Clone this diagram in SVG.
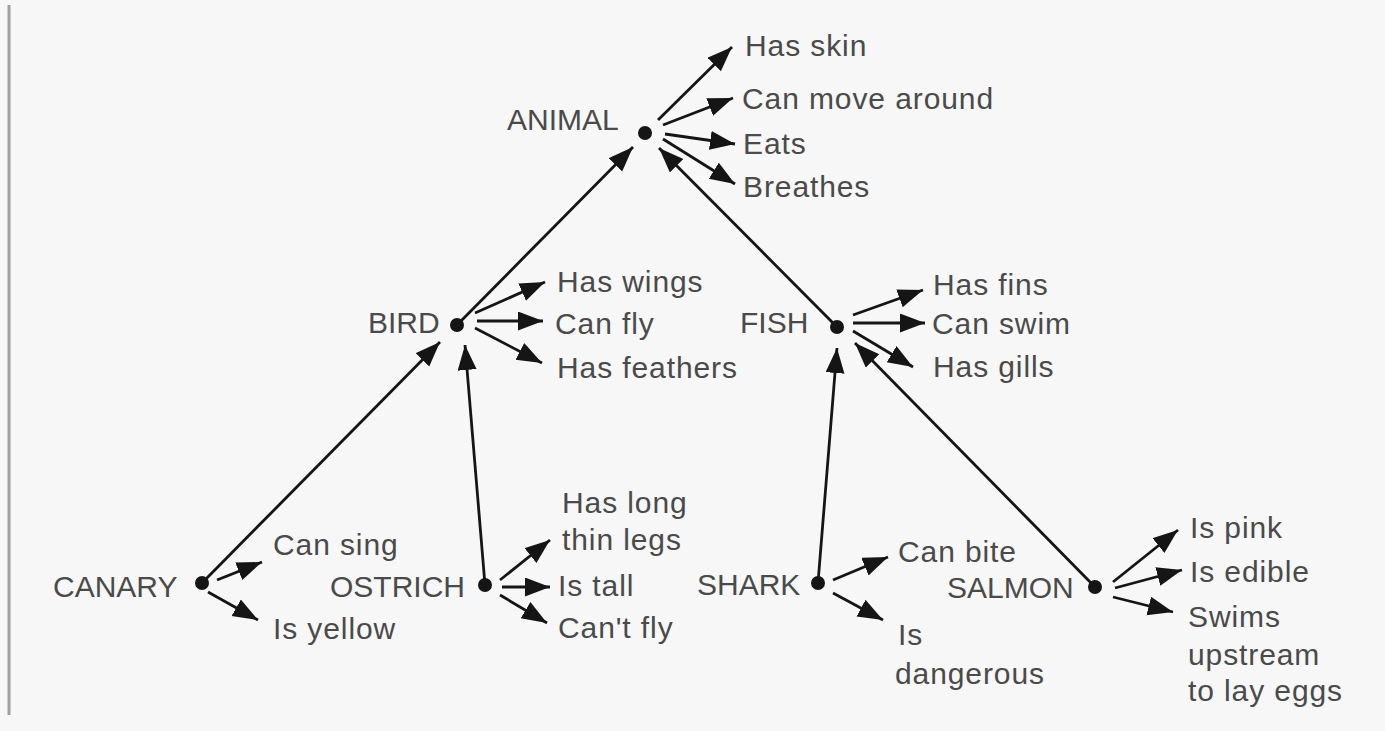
<svg xmlns="http://www.w3.org/2000/svg" width="1385" height="731" viewBox="0 0 1385 731">
<style>
.bg{fill:#f7f7f7}
.lbl{font-family:"Liberation Sans",Arial,sans-serif;font-size:30px;fill:#4a4a4a}
.prop{letter-spacing:0.9px}
.edge{stroke:#151515;stroke-width:2.8;fill:none;marker-end:url(#ah)}
.dot{fill:#151515}
</style>
<defs>
<marker id="ah" markerUnits="userSpaceOnUse" markerWidth="28" markerHeight="22" refX="25" refY="9.5" orient="auto">
<path d="M0,0 L25,9.5 L0,19 z" fill="#151515"/>
</marker>
</defs>
<rect class="bg" x="0" y="0" width="1385" height="731"/>
<line x1="9" y1="5" x2="9" y2="715" stroke="#a0a0a0" stroke-width="3"/>

<g id="connectors">
<line class="edge" x1="658" y1="120" x2="732" y2="47"/>
<line class="edge" x1="663" y1="125" x2="733" y2="98"/>
<line class="edge" x1="665" y1="134" x2="735" y2="144"/>
<line class="edge" x1="663" y1="139" x2="735" y2="184"/>
<line class="edge" x1="457" y1="325" x2="633" y2="147"/>
<line class="edge" x1="837" y1="327" x2="659" y2="148"/>
<line class="edge" x1="475" y1="313" x2="545" y2="282"/>
<line class="edge" x1="477" y1="321" x2="543" y2="321"/>
<line class="edge" x1="475" y1="328" x2="542" y2="363"/>
<line class="edge" x1="853" y1="315" x2="923" y2="290"/>
<line class="edge" x1="853" y1="323" x2="925" y2="323"/>
<line class="edge" x1="853" y1="331" x2="913" y2="367"/>
<line class="edge" x1="202" y1="583" x2="440" y2="342"/>
<line class="edge" x1="217" y1="580" x2="262" y2="562"/>
<line class="edge" x1="208" y1="592" x2="258" y2="620"/>
<line class="edge" x1="485" y1="585" x2="465" y2="345"/>
<line class="edge" x1="500" y1="580" x2="550" y2="540"/>
<line class="edge" x1="502" y1="587" x2="550" y2="587"/>
<line class="edge" x1="500" y1="595" x2="547" y2="623"/>
<line class="edge" x1="818" y1="583" x2="837" y2="348"/>
<line class="edge" x1="833" y1="580" x2="888" y2="557"/>
<line class="edge" x1="833" y1="593" x2="883" y2="620"/>
<line class="edge" x1="1095" y1="587" x2="855" y2="343"/>
<line class="edge" x1="1113" y1="582" x2="1178" y2="530"/>
<line class="edge" x1="1115" y1="588" x2="1182" y2="570"/>
<line class="edge" x1="1113" y1="597" x2="1173" y2="612"/>
</g>

<g id="animal">
<circle class="dot" cx="645" cy="133" r="7"/>
<text class="lbl" x="507" y="130">ANIMAL</text>
</g>
<g id="animal-props">
<text class="lbl prop" x="745" y="56">Has skin</text>
<text class="lbl prop" x="742" y="109">Can move around</text>
<text class="lbl prop" x="743" y="154">Eats</text>
<text class="lbl prop" x="743" y="197">Breathes</text>
</g>

<g id="bird">
<circle class="dot" cx="457" cy="325" r="7"/>
<text class="lbl" x="368" y="333">BIRD</text>
</g>
<g id="bird-props">
<text class="lbl prop" x="557" y="292">Has wings</text>
<text class="lbl prop" x="555" y="334">Can fly</text>
<text class="lbl prop" x="557" y="378">Has feathers</text>
</g>

<g id="fish">
<circle class="dot" cx="837" cy="327" r="7"/>
<text class="lbl" x="740" y="333">FISH</text>
</g>
<g id="fish-props">
<text class="lbl prop" x="933" y="295">Has fins</text>
<text class="lbl prop" x="932" y="334">Can swim</text>
<text class="lbl prop" x="933" y="377">Has gills</text>
</g>

<g id="canary">
<circle class="dot" cx="202" cy="583" r="7"/>
<text class="lbl" x="53" y="597">CANARY</text>
</g>
<g id="canary-props">
<text class="lbl prop" x="273" y="555">Can sing</text>
<text class="lbl prop" x="273" y="639">Is yellow</text>
</g>

<g id="ostrich">
<circle class="dot" cx="485" cy="585" r="7"/>
<text class="lbl" x="330" y="597">OSTRICH</text>
</g>
<g id="ostrich-props">
<text class="lbl prop" x="562" y="513">Has long</text>
<text class="lbl prop" x="562" y="550">thin legs</text>
<text class="lbl prop" x="558" y="596">Is tall</text>
<text class="lbl prop" x="558" y="638">Can't fly</text>
</g>

<g id="shark">
<circle class="dot" cx="818" cy="583" r="7"/>
<text class="lbl" x="697" y="595">SHARK</text>
</g>
<g id="shark-props">
<text class="lbl prop" x="898" y="562">Can bite</text>
<text class="lbl prop" x="898" y="645">Is</text>
<text class="lbl prop" x="895" y="684">dangerous</text>
</g>

<g id="salmon">
<circle class="dot" cx="1095" cy="587" r="7"/>
<text class="lbl" x="947" y="598">SALMON</text>
</g>
<g id="salmon-props">
<text class="lbl prop" x="1190" y="538">Is pink</text>
<text class="lbl prop" x="1190" y="582">Is edible</text>
<text class="lbl prop" x="1188" y="627">Swims</text>
<text class="lbl prop" x="1188" y="665">upstream</text>
<text class="lbl prop" x="1188" y="701">to lay eggs</text>
</g>
</svg>
